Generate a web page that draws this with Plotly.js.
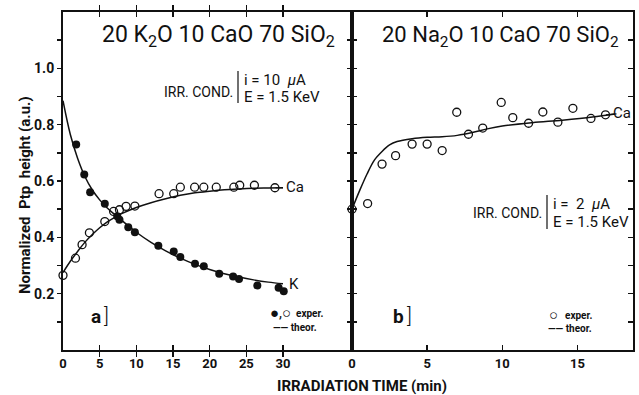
<!DOCTYPE html>
<html>
<head>
<meta charset="utf-8">
<script src="https://cdn.plot.ly/plotly-3.0.1.min.js"></script>
<style>html,body{margin:0;padding:0;background:#fff;}#chart{width:639px;height:395px;}</style>
</head>
<body>
<div id="chart"></div>
<script>
// ---- Panel a: 20 K2O 10 CaO 70 SiO2 ----
const kExpT = [1.8, 2.9, 3.7, 5.7, 7.4, 7.7, 8.9, 9.8, 13.0, 15.1, 16.0, 18.0, 19.2, 21.3, 23.2, 24.0, 26.5, 29.4, 30.1];
const kExpV = [0.73, 0.623, 0.56, 0.519, 0.475, 0.462, 0.436, 0.418, 0.37, 0.35, 0.33, 0.306, 0.297, 0.271, 0.261, 0.252, 0.229, 0.221, 0.209];
const caExpT = [0, 1.7, 2.6, 3.6, 5.7, 6.9, 7.7, 8.6, 9.8, 13.1, 15.1, 16.0, 17.95, 19.2, 20.9, 23.3, 24.1, 26.1, 28.9];
const caExpV = [0.265, 0.326, 0.374, 0.416, 0.456, 0.492, 0.498, 0.51, 0.511, 0.555, 0.555, 0.578, 0.578, 0.578, 0.578, 0.578, 0.585, 0.585, 0.576];
const kTheoT = [0, 1, 2, 3, 4, 5, 6, 7, 8, 10, 12, 14, 16, 18, 20, 22, 24, 26, 28, 30];
const kTheoV = [0.885, 0.765, 0.68, 0.615, 0.568, 0.533, 0.505, 0.482, 0.46, 0.418, 0.382, 0.352, 0.326, 0.304, 0.286, 0.271, 0.259, 0.249, 0.241, 0.235];
const caTheoT = [0, 1, 2, 3, 4, 5, 6, 7, 8, 10, 12, 14, 16, 18, 20, 22, 24, 26, 28, 30];
const caTheoV = [0.275, 0.315, 0.35, 0.383, 0.41, 0.434, 0.454, 0.47, 0.484, 0.506, 0.523, 0.537, 0.549, 0.558, 0.564, 0.569, 0.572, 0.574, 0.575, 0.576];

// ---- Panel b: 20 Na2O 10 CaO 70 SiO2 ----
const bExpT = [0, 1.04, 2.0, 2.9, 4.0, 5.0, 6.0, 6.97, 7.75, 8.7, 9.93, 10.7, 11.75, 12.7, 13.7, 14.7, 15.9, 16.87];
const bExpV = [0.50, 0.52, 0.66, 0.69, 0.731, 0.731, 0.708, 0.844, 0.766, 0.788, 0.879, 0.825, 0.805, 0.845, 0.809, 0.858, 0.822, 0.835];
const bTheoT = [0, 0.5, 1.0, 1.5, 2.0, 2.5, 3.0, 4.0, 5.0, 6.0, 7.0, 8.0, 9.0, 10.0, 12.0, 14.0, 16.0, 17.5];
const bTheoV = [0.50, 0.565, 0.625, 0.675, 0.705, 0.728, 0.74, 0.75, 0.755, 0.757, 0.762, 0.772, 0.785, 0.795, 0.807, 0.816, 0.827, 0.838];

const xTicksA = [0, 5, 10, 15, 20, 25, 30];
const xTicksB = [0, 5, 10, 15];
const yTickVals = [0.1, 0.2, 0.3, 0.4, 0.5, 0.6, 0.7, 0.8, 0.9, 1.0, 1.1];
const yTickText = ['', '0.2', '', '0.4', '', '0.6', '', '0.8', '', '1.0', ''];

const W = 639, H = 395, ML = 63, MR = 6, MT = 12, MB = 45;
const PW = W - ML - MR, PH = H - MT - MB;
const px = x => (x - ML) / PW;
const py = y => (H - MB - y) / PH;
const split = px(352);

const FN = 'Roboto, "Liberation Sans", sans-serif';
const black = '#111';

const traces = [
  {x: kTheoT, y: kTheoV, mode: 'lines', line: {color: black, width: 1.5, shape: 'spline'}, xaxis: 'x', yaxis: 'y', hoverinfo: 'skip'},
  {x: caTheoT, y: caTheoV, mode: 'lines', line: {color: black, width: 1.5, shape: 'spline'}, xaxis: 'x', yaxis: 'y', hoverinfo: 'skip'},
  {x: kExpT, y: kExpV, mode: 'markers', marker: {symbol: 'circle', size: 8, color: black}, xaxis: 'x', yaxis: 'y'},
  {x: caExpT, y: caExpV, mode: 'markers', marker: {symbol: 'circle-open', size: 8, color: black, line: {width: 1.3, color: black}}, xaxis: 'x', yaxis: 'y', cliponaxis: false},
  {x: bTheoT, y: bTheoV, mode: 'lines', line: {color: black, width: 1.5, shape: 'spline'}, xaxis: 'x2', yaxis: 'y2', hoverinfo: 'skip'},
  {x: bExpT, y: bExpV, mode: 'markers', marker: {symbol: 'circle-open', size: 8, color: black, line: {width: 1.3, color: black}}, xaxis: 'x2', yaxis: 'y2', cliponaxis: false},
  {x: [], y: [], xaxis: 'x', yaxis: 'y3', mode: 'lines'}
];

const tickFont = {family: FN, size: 13, color: black, weight: 'bold'};
const axCommon = {showline: true, linecolor: black, linewidth: 2, showgrid: false, zeroline: false, tickcolor: black, tickwidth: 1.5, ticklen: 5, fixedrange: true};

const ann = (x, y, text, size, opts) => Object.assign({xref: 'paper', yref: 'paper', x: px(x), y: py(y), text: text, showarrow: false, xanchor: 'center', yanchor: 'middle', font: {family: FN, size: size, color: black}}, opts || {});
const bold = (size) => ({family: FN, size: size, color: black, weight: 'bold'});

const annotations = [
  ann(218, 36, '20 K<sub>2</sub>O 10 CaO 70 SiO<sub>2</sub>', 23),
  ann(501, 36, '20 Na<sub>2</sub>O 10 CaO 70 SiO<sub>2</sub>', 22),
  ann(235, 92, 'IRR. COND.', 14, {xanchor: 'right'}),
  ann(242, 80, 'i = 10  <i>μ</i>A', 15, {xanchor: 'left'}),
  ann(242, 97, 'E = 1.5 KeV', 15, {xanchor: 'left'}),
  ann(544, 213, 'IRR. COND.', 14, {xanchor: 'right'}),
  ann(551, 204, 'i =  2  <i>μ</i>A', 15, {xanchor: 'left'}),
  ann(551, 222, 'E = 1.5 KeV', 15, {xanchor: 'left'}),
  ann(96, 316, 'a', 18, {font: bold(19)}),
  ann(106, 316, ']', 18, {font: {family: FN, size: 20, color: black, weight: 300}}),
  ann(399, 316, 'b', 18, {font: bold(19)}),
  ann(409, 316, ']', 18, {font: {family: FN, size: 20, color: black, weight: 300}}),
  ann(268, 313, '●,○', 15, {xanchor: 'left'}),
  ann(294, 313, 'exper.', 10, {xanchor: 'left', font: bold(10)}),
  ann(271, 327, '—— theor.', 10, {xanchor: 'left', font: bold(10)}),
  ann(553, 315, '○', 15, {xanchor: 'center'}),
  ann(594, 315, 'exper.', 10, {xanchor: 'right', font: bold(10)}),
  ann(594, 328, '—— theor.', 10, {xanchor: 'right', font: bold(10)}),
  ann(295, 187, 'Ca', 15, {xanchor: 'center', font: {family: FN, size: 15, color: black}}),
  ann(294, 284, 'K', 15, {xanchor: 'center', font: {family: FN, size: 15, color: black}}),
  ann(622, 113, 'Ca', 15, {xanchor: 'center', font: {family: FN, size: 15, color: black}}),
  ann(25, 195, 'Normalized  Ptp  height (a.u.)', 15, {textangle: -90, font: bold(15)}),
  ann(362, 386, 'IRRADIATION TIME (min)', 15, {font: bold(15)})
];

const shapes = [
  {type: 'line', xref: 'paper', yref: 'paper', x0: px(238), x1: px(238), y0: py(71), y1: py(103), line: {color: black, width: 1.2}},
  {type: 'line', xref: 'paper', yref: 'paper', x0: px(547), x1: px(547), y0: py(195), y1: py(229), line: {color: black, width: 1.2}},
  {type: 'line', xref: 'x', yref: 'y', x0: 29.0, x1: 30.0, y0: 0.576, y1: 0.576, line: {color: black, width: 1.2}},
  {type: 'line', xref: 'x2', yref: 'y2', x0: 16.9, x1: 17.6, y0: 0.835, y1: 0.838, line: {color: black, width: 1.2}}
];

const layout = {
  width: W, height: H,
  margin: {l: ML, r: MR, t: MT, b: MB, pad: 0},
  paper_bgcolor: '#fff', plot_bgcolor: '#fff',
  showlegend: false,
  font: {family: FN, color: black},
  xaxis: Object.assign({}, axCommon, {domain: [0, split], range: [0, 39.41], tickmode: 'array', tickvals: xTicksA, ticks: 'inside', mirror: 'allticks', anchor: 'y', tickfont: tickFont}),
  xaxis2: Object.assign({}, axCommon, {domain: [split, 1], range: [0, 18.7], tickmode: 'array', tickvals: xTicksB, ticks: 'inside', mirror: 'allticks', anchor: 'y2', tickfont: tickFont}),
  yaxis: Object.assign({}, axCommon, {domain: [0, 1], range: [0, 1.2], tickmode: 'array', tickvals: yTickVals, ticktext: yTickText, ticks: 'outside', ticklen: 4, mirror: true, anchor: 'x', tickfont: {family: FN, size: 14, color: black, weight: 'bold'}}),
  yaxis2: Object.assign({}, axCommon, {domain: [0, 1], range: [0, 1.2], tickmode: 'array', tickvals: yTickVals, ticks: 'inside', mirror: 'allticks', anchor: 'x2', showticklabels: false}),
  yaxis3: Object.assign({}, axCommon, {range: [0, 1.2], overlaying: 'y', side: 'right', anchor: 'x', tickmode: 'array', tickvals: yTickVals, ticks: 'inside', showticklabels: false}),
  annotations: annotations,
  shapes: shapes
};

Plotly.newPlot('chart', traces, layout, {displayModeBar: false, staticPlot: true});
</script>
</body>
</html>
